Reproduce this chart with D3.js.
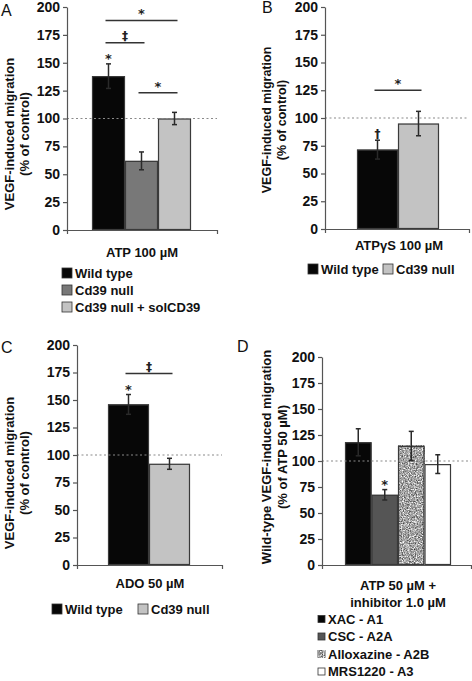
<!DOCTYPE html>
<html><head><meta charset="utf-8">
<script src="https://cdn.jsdelivr.net/npm/d3@7"></script>
<style>
body{margin:0;background:#fff}
svg{display:block}
text{font-family:"Liberation Sans",Arial,Helvetica,sans-serif}
</style>
</head><body>
<svg id="chart" width="472" height="681"></svg>
<script>
// ---------- shared ----------
const yTicks = [0, 25, 50, 75, 100, 125, 150, 175, 200];
const yDomain = [0, 200];
const controlLevel = 100;

// ---------- panel A ----------
const aCategories = ["Wild type", "Cd39 null", "Cd39 null + solCD39"];
const aValues = [138, 62, 100];
const aErrors = [11, 8, 5.5];
const aBrackets = [
  {from: 0, to: 2, level: 188, symbol: "*"},
  {from: 0, to: 1, level: 168, symbol: "‡"},
  {from: 1, to: 2, level: 123, symbol: "*"}
];
const aMarks = [{index: 0, symbol: "*"}];

// ---------- panel B ----------
const bCategories = ["Wild type", "Cd39 null"];
const bValues = [71.5, 95];
const bErrors = [8.5, 11];
const bBrackets = [{from: 0, to: 1, level: 125, symbol: "*"}];
const bMarks = [{index: 0, symbol: "†"}];

// ---------- panel C ----------
const cCategories = ["Wild type", "Cd39 null"];
const cValues = [146, 92];
const cErrors = [9, 5];
const cBrackets = [{from: 0, to: 1, level: 174, symbol: "‡"}];
const cMarks = [{index: 0, symbol: "*"}];

// ---------- panel D ----------
const dCategories = ["XAC - A1", "CSC - A2A", "Alloxazine - A2B", "MRS1220 - A3"];
const dValues = [118, 67.5, 114.5, 97];
const dErrors = [13, 5, 14, 9];
const dBrackets = [];
const dMarks = [{index: 1, symbol: "*"}];

// ---------- styles / layout ----------
const svg = d3.select("#chart");
const defs = svg.append("defs");
const flt = defs.append("filter").attr("id", "speckle")
  .attr("x", 0).attr("y", 0).attr("width", 1).attr("height", 1)
  .attr("filterUnits", "objectBoundingBox")
  .attr("color-interpolation-filters", "sRGB");
flt.append("feTurbulence").attr("type", "fractalNoise")
  .attr("baseFrequency", 0.85).attr("numOctaves", 2).attr("seed", 3).attr("result", "n");
flt.append("feColorMatrix").attr("type", "matrix")
  .attr("values", "1.25 0 0 0 0.02  1.25 0 0 0 0.02  1.25 0 0 0 0.02  0 0 0 0 1");

const FS = 13;
const TICKFS = 14;
const TXT = "#111";
const SYMFONT = '"DejaVu Sans","Liberation Sans",sans-serif';
const panels = [
  {
    letter: "A", letterPos: [1, 16],
    cats: aCategories, vals: aValues, errs: aErrors, brackets: aBrackets, marks: aMarks,
    colors: ["#070707", "#787878", "#c3c3c3"], fills: [null, null, null],
    axisL: 67, axisR: 217, yTop: 7, yBot: 230, barsL: 92, barsR: 191,
    ylab: ["VEGF-induced migration", "(% of control)"], ylabX: [9, 24], ylabCY: 134, ylabFS: 13,
    xlab: ["ATP 100 µM"], xlabX: 142, xlabY: [257],
    legend: {type: "v", x: 62, y: 273, dy: 17, size: 10, tx: 75}
  },
  {
    letter: "B", letterPos: [262, 13],
    cats: bCategories, vals: bValues, errs: bErrors, brackets: bBrackets, marks: bMarks,
    colors: ["#070707", "#c3c3c3"], fills: [null, null],
    axisL: 325, axisR: 469, yTop: 7, yBot: 229, barsL: 357, barsR: 439,
    ylab: ["VEGF-induced migration", "(% of control)"], ylabX: [267, 282], ylabCY: 120, ylabFS: 12.5,
    xlab: ["ATPγS 100 µM"], xlabX: 399, xlabY: [250],
    legend: {type: "h", xs: [308, 383], y: 269, size: 10, gap: 3}
  },
  {
    letter: "C", letterPos: [1, 353],
    cats: cCategories, vals: cValues, errs: cErrors, brackets: cBrackets, marks: cMarks,
    colors: ["#070707", "#c3c3c3"], fills: [null, null],
    axisL: 77, axisR: 222, yTop: 345, yBot: 565, barsL: 108, barsR: 190,
    ylab: ["VEGF-induced migration", "(% of control)"], ylabX: [9, 24], ylabCY: 473, ylabFS: 13,
    xlab: ["ADO 50 µM"], xlabX: 150, xlabY: [588],
    legend: {type: "h", xs: [52, 138], y: 609, size: 10, gap: 3}
  },
  {
    letter: "D", letterPos: [237, 352],
    cats: dCategories, vals: dValues, errs: dErrors, brackets: dBrackets, marks: dMarks,
    colors: ["#070707", "#555555", "#9a9a9a", "#ffffff"], fills: [null, null, "url(#speckle)", null],
    axisL: 322, axisR: 471, yTop: 357, yBot: 565, barsL: 345, barsR: 451,
    ylab: ["Wild-type VEGF-induced migration", "(% of ATP 50 µM)"], ylabX: [266, 282], ylabCY: 457, ylabFS: 13,
    xlab: ["ATP 50 µM +", "inhibitor 1.0 µM"], xlabX: 398, xlabY: [590, 607],
    legend: {type: "v", x: 318, y: 619, dy: 17.5, size: 7, tx: 328}
  }
];

panels.forEach(p => {
  const g = svg.append("g");
  const y = d3.scaleLinear().domain(yDomain).range([p.yBot, p.yTop]);
  const x = d3.scaleBand().domain(p.cats).range([p.barsL, p.barsR]).paddingInner(0).paddingOuter(0);
  const frame = d3.scaleBand().domain([""]).range([p.axisL, p.axisR]);

  // panel letter
  g.append("text").attr("x", p.letterPos[0]).attr("y", p.letterPos[1])
    .attr("font-size", 16).attr("fill", TXT).text(p.letter);

  // bars
  const bars = g.append("g");
  p.cats.forEach((c, i) => {
    bars.append("rect")
      .attr("x", x(c)).attr("y", y(p.vals[i]))
      .attr("width", x.bandwidth()).attr("height", y(0) - y(p.vals[i]))
      .attr("fill", p.colors[i]);
    if (p.fills[i]) {
      bars.append("rect")
        .attr("x", x(c)).attr("y", y(p.vals[i]))
        .attr("width", x.bandwidth()).attr("height", y(0) - y(p.vals[i]))
        .attr("filter", p.fills[i]);
    }
    bars.append("rect")
      .attr("x", x(c) + 0.5).attr("y", y(p.vals[i]) + 0.5)
      .attr("width", x.bandwidth() - 1).attr("height", y(0) - y(p.vals[i]) - 1)
      .attr("fill", "none").attr("stroke", "#3a3a3a").attr("stroke-width", 1.2);
  });

  // reference dotted line
  g.append("line")
    .attr("x1", p.axisL).attr("x2", p.axisR)
    .attr("y1", y(controlLevel)).attr("y2", y(controlLevel))
    .attr("stroke", "#8a8a8a").attr("stroke-width", 1.2).attr("stroke-dasharray", "2,2.5");

  // error bars
  p.cats.forEach((c, i) => {
    const cx = x(c) + x.bandwidth() / 2;
    const hi = y(p.vals[i] + p.errs[i]), lo = y(p.vals[i] - p.errs[i]);
    const col = "#2a2a2a";
    g.append("line").attr("x1", cx).attr("x2", cx).attr("y1", hi).attr("y2", lo)
      .attr("stroke", col).attr("stroke-width", 1.5);
    [hi, lo].forEach(v => g.append("line").attr("x1", cx - 2.5).attr("x2", cx + 2.5)
      .attr("y1", v).attr("y2", v).attr("stroke", col).attr("stroke-width", 1.5));
  });

  // marks above bars
  p.marks.forEach(m => {
    const c = p.cats[m.index];
    const cx = x(c) + x.bandwidth() / 2;
    const top = y(p.vals[m.index] + p.errs[m.index]);
    g.append("text").attr("x", cx).attr("y", top - (m.symbol === "*" ? 1 : 2))
      .attr("text-anchor", "middle").attr("font-size", m.symbol === "*" ? 13 : 12)
      .attr("font-weight", "bold").style("font-family", SYMFONT)
      .attr("fill", "#222").text(m.symbol);
  });

  // significance brackets
  p.brackets.forEach(b => {
    const x1 = x(p.cats[b.from]) + x.bandwidth() / 2 - 3;
    const x2 = x(p.cats[b.to]) + x.bandwidth() / 2 + 3;
    g.append("line").attr("x1", x1).attr("x2", x2).attr("y1", y(b.level)).attr("y2", y(b.level))
      .attr("stroke", "#333").attr("stroke-width", 1.5);
    g.append("text").attr("x", (x1 + x2) / 2).attr("y", y(b.level) - (b.symbol === "*" ? 2 : 3))
      .attr("text-anchor", "middle").attr("font-size", b.symbol === "*" ? 13 : 12)
      .attr("font-weight", "bold").style("font-family", SYMFONT)
      .attr("fill", "#222").text(b.symbol);
  });

  // y axis
  const ya = g.append("g").attr("transform", `translate(${p.axisL},0)`)
    .call(d3.axisLeft(y).tickValues(yTicks).tickSizeInner(4).tickSizeOuter(0).tickPadding(3));
  ya.selectAll("text").attr("font-size", TICKFS).attr("font-weight", "bold").attr("fill", TXT)
    .style("font-family", '"Liberation Sans",Arial,sans-serif');
  ya.selectAll("line,path").attr("stroke", "#555").attr("stroke-width", 1.2);

  // x axis
  const xa = g.append("g").attr("transform", `translate(0,${p.yBot})`)
    .call(d3.axisBottom(frame).tickSizeInner(0).tickSizeOuter(4).tickFormat(""));
  xa.selectAll("line").remove();
  xa.selectAll("path").attr("stroke", "#555").attr("stroke-width", 1.2);

  // y label
  p.ylab.forEach((t, k) => {
    g.append("text")
      .attr("transform", `translate(${p.ylabX[k]},${p.ylabCY}) rotate(-90)`)
      .attr("text-anchor", "middle").attr("dy", "0.35em")
      .attr("font-size", p.ylabFS).attr("font-weight", "bold").attr("fill", TXT).text(t);
  });

  // x label
  p.xlab.forEach((t, k) => {
    g.append("text").attr("x", p.xlabX).attr("y", p.xlabY[k])
      .attr("text-anchor", "middle").attr("font-size", FS).attr("font-weight", "bold")
      .attr("fill", TXT).text(t);
  });

  // legend
  const L = p.legend;
  p.cats.forEach((c, i) => {
    let sx, sy, tx;
    if (L.type === "v") { sx = L.x; sy = L.y + i * L.dy; tx = L.tx; }
    else { sx = L.xs[i]; sy = L.y; tx = sx + L.size + L.gap; }
    g.append("rect").attr("x", sx).attr("y", sy - L.size / 2)
      .attr("width", L.size).attr("height", L.size).attr("fill", p.colors[i])
      .attr("stroke", "#333").attr("stroke-width", 0.8);
    if (p.fills[i]) {
      g.append("rect").attr("x", sx).attr("y", sy - L.size / 2)
        .attr("width", L.size).attr("height", L.size).attr("filter", p.fills[i]);
    }
    g.append("text").attr("x", tx).attr("y", sy).attr("dy", "0.36em")
      .attr("font-size", FS).attr("font-weight", "bold").attr("fill", TXT).text(c);
  });
});
</script>
</body></html>
